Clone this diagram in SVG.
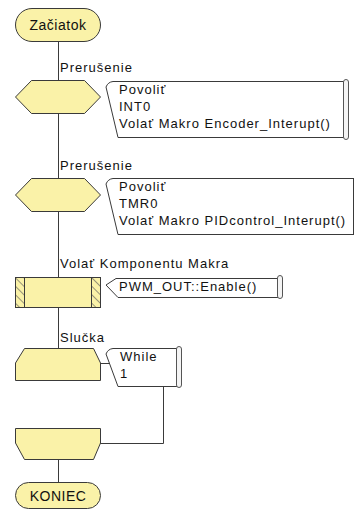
<svg xmlns="http://www.w3.org/2000/svg" width="354" height="510" viewBox="0 0 354 510">
<style>
.sh{fill:#FAF2A8;stroke:#3a3a3a;stroke-width:1}
.ln{fill:none;stroke:#3a3a3a;stroke-width:1}
.cm{fill:#fff;stroke:#3a3a3a;stroke-width:1}
.sc{fill:#f4f4f4;stroke:#555;stroke-width:1}
.t{font-family:"Liberation Sans",Arial,sans-serif;font-size:13px;letter-spacing:1px;fill:#111}
.tt{font-family:"Liberation Sans",Arial,sans-serif;font-size:14px;letter-spacing:0.5px;fill:#111;text-anchor:middle}
</style>
<defs>
<pattern id="hatch" width="6" height="6" patternUnits="userSpaceOnUse" patternTransform="rotate(-45)">
<rect width="6" height="6" fill="#FAF2A8"/>
<line x1="0" y1="0" x2="0" y2="6" stroke="#555" stroke-width="1.2"/>
</pattern>
</defs>
<rect width="354" height="510" fill="#fff"/>
<g id="connectors">
<line class="ln" x1="58.5" y1="42" x2="58.5" y2="80"/>
<line class="ln" x1="58.5" y1="114" x2="58.5" y2="178"/>
<line class="ln" x1="58.5" y1="212" x2="58.5" y2="278"/>
<line class="ln" x1="58.5" y1="308" x2="58.5" y2="348"/>
<line class="ln" x1="58.5" y1="460" x2="58.5" y2="482"/>
<polyline class="ln" points="163.5,386 163.5,443.5 100,443.5"/>
<line class="ln" x1="100" y1="363.5" x2="110" y2="363.5"/>
</g>
<g id="start">
<rect class="sh" x="15.5" y="8.5" width="85" height="33" rx="16.5"/>
<text class="tt" x="58" y="30">Začiatok</text>
</g>
<g id="int1">
<text class="t" x="60" y="72">Prerušenie</text>
<polygon class="sh" points="15.5,97 31.5,80.5 84.5,80.5 100.5,97 84.5,113.5 31.5,113.5"/>
<path class="cm" d="M346,81.5 L113,81.5 Q108,82 106,87 L118,137.5 L346,137.5"/>
<rect class="sc" x="343.5" y="79.5" width="5" height="60" rx="2.5"/>
<text class="t" x="119" y="94">Povoliť</text>
<text class="t" x="119" y="111">INT0</text>
<text class="t" x="119" y="128">Volať Makro Encoder_Interupt()</text>
</g>
<g id="int2">
<text class="t" x="60" y="170">Prerušenie</text>
<polygon class="sh" points="15.5,195 31.5,178.5 84.5,178.5 100.5,195 84.5,211.5 31.5,211.5"/>
<path class="cm" d="M360,178.5 L113,178.5 Q108,179 106,184 L118,234.5 L360,234.5"/>
<line class="ln" x1="353.5" y1="178" x2="353.5" y2="235"/>
<text class="t" x="119" y="191">Povoliť</text>
<text class="t" x="119" y="208">TMR0</text>
<text class="t" x="119" y="225">Volať Makro PIDcontrol_Interupt()</text>
</g>
<g id="component">
<text class="t" x="60" y="268">Volať Komponentu Makra</text>
<rect class="sh" x="15.5" y="277.5" width="85" height="30"/>
<rect x="16" y="278" width="8" height="29" fill="url(#hatch)"/>
<rect x="92" y="278" width="8" height="29" fill="url(#hatch)"/>
<line class="ln" x1="24.5" y1="278" x2="24.5" y2="307"/>
<line class="ln" x1="91.5" y1="278" x2="91.5" y2="307"/>
<path class="cm" d="M280,278.5 L116,278.5 L106,285 L118,297.5 L280,297.5"/>
<rect class="sc" x="277.5" y="275.5" width="5" height="23" rx="2.5"/>
<text class="t" x="119" y="291">PWM_OUT::Enable()</text>
</g>
<g id="loopstart">
<text class="t" x="60" y="342">Slučka</text>
<polygon class="sh" points="24.5,348.5 93.5,348.5 100.5,363 100.5,380.5 15.5,380.5 15.5,363"/>
<path class="cm" d="M178,348.5 L113,348.5 Q108,349 106,354 L118,386.5 L178,386.5"/>
<rect class="sc" x="176.5" y="346.5" width="5" height="41" rx="2.5"/>
<text class="t" x="120" y="361">While</text>
<text class="t" x="120" y="378">1</text>
</g>
<g id="loopend">
<polygon class="sh" points="15.5,428.5 100.5,428.5 100.5,443 93.5,459.5 24.5,459.5 15.5,443"/>
</g>
<g id="end">
<rect class="sh" x="15.5" y="482.5" width="85" height="26" rx="13"/>
<text class="tt" x="58" y="501">KONIEC</text>
</g>
</svg>
